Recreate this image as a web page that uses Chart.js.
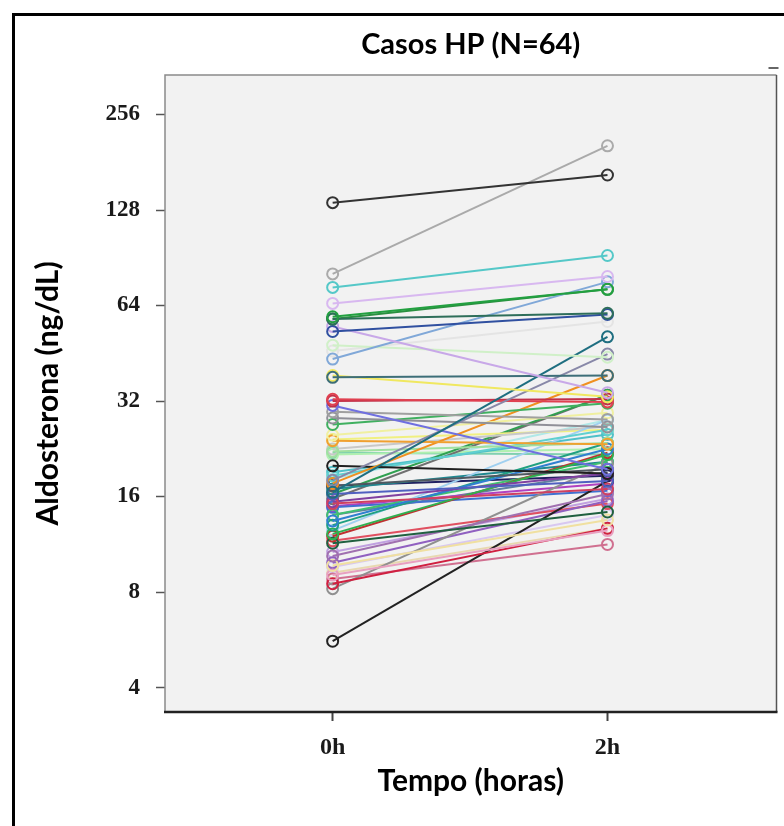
<!DOCTYPE html>
<html>
<head>
<meta charset="utf-8">
<script src="https://cdn.jsdelivr.net/npm/chart.js@4.4.1/dist/chart.umd.min.js"></script>
<style>
  html, body { margin: 0; padding: 0; background: #fff; overflow: hidden; }
  #wrap { position: relative; width: 784px; height: 826px; overflow: hidden; }
  #frame { position: absolute; left: 12px; top: 13px; width: 800px; height: 840px; border: 3px solid #000; box-sizing: border-box; }
  #chart { position: absolute; left: 0; top: 0; }
</style>
</head>
<body>
<div id="wrap">
  <div id="frame"></div>
  <canvas id="chart" width="784" height="826"></canvas>
</div>
<script>
// Tempo de coleta (horas)
const hours = [0, 2];
const yTicks = [4, 8, 16, 32, 64, 128, 256];

// Aldosterona (ng/dL) por paciente, 0h e 2h
const start0h = [
  135, 80.5, 73, 65, 59, 58, 53, 55, 43.4, 48, 46, 38, 38.5, 16.5, 18, 32.4,
  32, 31, 29.6, 28.3, 27, 25, 24, 17.6, 22.2, 20, 18.6, 17.3, 16.3, 15.2, 15.4, 13.4,
  13, 12.2, 11.4, 12, 10.4, 9.7, 9.05, 8.5, 8.2, 5.6, 8.8, 9.9, 12.5, 14.0, 14.8, 16.9,
  19.1, 22.6, 24.2, 16.3, 15.75, 21.7, 14.9, 14.0, 11.6, 10.7, 9.6, 9.2, 17.3, 18.2, 22, 58
];
const end2h = [
  165, 204, 92, 79, 72, 60.5, 60, 34, 76, 44, 57, 38.5, 33, 51, 45, 31.8,
  32.5, 19.5, 28, 26.5, 31.5, 29.4, 23.4, 38.5, 23.6, 18.9, 26, 19.5, 17.9, 16.9, 18.9, 22.6,
  23.6, 21.7, 14.3, 22, 16.3, 13.5, 12.5, 12.7, 20.3, 17.9, 11.3, 15.5, 27.9, 20.6, 16.7, 20.6,
  25.1, 26.6, 26, 33.4, 33.4, 22.6, 17.6, 19.1, 15.2, 15.75, 14.0, 12.7, 18.6, 27.9, 21.7, 72
];

const lineColors = [
  '#333333', '#aaaaaa', '#55c8c8', '#d8b8f0', '#22a040', '#2e6e5a', '#3050a0', '#c8a8e8',
  '#80a8d8', '#d0f0c8', '#e4e4e4', '#3d6e78', '#f0e860', '#1e6e80', '#8888a8', '#e04050',
  '#c03048', '#7070e0', '#a0a0a0', '#909098', '#40b060', '#f0f0a0', '#f0a030', '#f09020',
  '#a0e0a0', '#202020', '#60d0d0', '#505860', '#5060c0', '#d04060', '#8040a0', '#3080d0',
  '#20a080', '#30b050', '#206040', '#c03030', '#a070b0', '#f0e0a0', '#e8a0c0', '#d02040',
  '#909090', '#222222', '#d07090', '#9060c0', '#a0d0f0', '#40c070', '#4070d0', '#208890',
  '#50c0c8', '#c8c8c8', '#f0f080', '#30a050', '#707070', '#b0f0b0', '#b040c0', '#6080a0',
  '#e05060', '#c0a0e0', '#d8c8f0', '#e8d8b0', '#202060', '#b0e8e8', '#80d0b0', '#2a9040'
];

const datasets = start0h.map((v, i) => ({
  data: [{ x: hours[0], y: v }, { x: hours[1], y: end2h[i] }],
  borderColor: lineColors[i],
  borderWidth: 2,
  pointRadius: 5.5,
  pointBorderWidth: 2,
  pointBorderColor: lineColors[i],
  pointBackgroundColor: 'rgba(0,0,0,0)',
  fill: false
}));

// fundo cinza da area do grafico + moldura + titulo
const plotBox = {
  id: 'plotBox',
  beforeDatasetsDraw(chart) {
    const a = chart.chartArea;
    const ctx = chart.ctx;
    ctx.save();
    ctx.fillStyle = '#f2f2f2';
    ctx.fillRect(a.left, a.top, a.right - a.left, a.bottom - a.top);
    ctx.restore();
  },
  afterDraw(chart) {
    const a = chart.chartArea;
    const ctx = chart.ctx;
    ctx.save();
    ctx.lineWidth = 1.5;
    ctx.strokeStyle = '#8a8a8a';
    ctx.beginPath();
    ctx.moveTo(a.left, a.bottom);
    ctx.lineTo(a.left, a.top);
    ctx.lineTo(a.right, a.top);
    ctx.stroke();
    ctx.strokeStyle = '#555';
    ctx.beginPath();
    ctx.moveTo(a.right, a.top);
    ctx.lineTo(a.right, a.bottom);
    ctx.stroke();
    ctx.lineWidth = 2.5;
    ctx.strokeStyle = '#222';
    ctx.beginPath();
    ctx.moveTo(a.left - 1, a.bottom);
    ctx.lineTo(a.right + 1, a.bottom);
    ctx.stroke();
    // pequeno traço no canto superior direito
    ctx.lineWidth = 2;
    ctx.strokeStyle = '#666';
    ctx.beginPath();
    ctx.moveTo(a.right - 8, a.top - 7);
    ctx.lineTo(a.right + 2, a.top - 7);
    ctx.stroke();
    // titulo
    ctx.fillStyle = '#000';
    ctx.font = 'bold 29px Lato';
    ctx.textAlign = 'center';
    ctx.textBaseline = 'middle';
    ctx.fillText('Casos HP (N=64)', (a.left + a.right) / 2, 45);
    ctx.restore();
  }
};

new Chart(document.getElementById('chart').getContext('2d'), {
  type: 'line',
  data: { datasets: datasets },
  plugins: [plotBox],
  options: {
    responsive: false,
    animation: false,
    layout: { padding: { top: 75, right: 7, left: 0, bottom: 0 } },
    plugins: { legend: { display: false }, tooltip: { enabled: false }, title: { display: false } },
    scales: {
      x: {
        type: 'linear',
        min: -1.22,
        max: 3.23,
        afterBuildTicks: (scale) => { scale.ticks = hours.map(h => ({ value: h })); },
        afterFit: (scale) => { scale.height = 114; },
        ticks: {
          callback: (v) => v + 'h',
          color: '#1a1a1a',
          padding: 12,
          font: { family: 'Liberation Serif', weight: 'bold', size: 24 }
        },
        grid: { drawOnChartArea: false, drawTicks: true, tickLength: 9, tickColor: '#444', tickWidth: 2 },
        border: { display: false },
        title: {
          display: true,
          text: 'Tempo (horas)',
          color: '#000',
          font: { family: 'Lato', weight: 'bold', size: 30 },
          padding: { top: 0, bottom: 27 }
        }
      },
      y: {
        type: 'logarithmic',
        min: 3.35,
        max: 341,
        afterBuildTicks: (scale) => { scale.ticks = yTicks.map(t => ({ value: t })); },
        afterFit: (scale) => { scale.width = 165; },
        ticks: {
          callback: (v) => String(v),
          color: '#1a1a1a',
          padding: 16,
          font: { family: 'Liberation Serif', weight: 'bold', size: 23 }
        },
        grid: { drawOnChartArea: false, drawTicks: true, tickLength: 9, tickColor: '#555', tickWidth: 1.5 },
        border: { display: false },
        title: {
          display: true,
          text: 'Aldosterona (ng/dL)',
          color: '#000',
          font: { family: 'Lato', weight: 'bold', size: 30 },
          padding: { top: 30, bottom: 0 }
        }
      }
    }
  }
});
</script>
</body>
</html>
